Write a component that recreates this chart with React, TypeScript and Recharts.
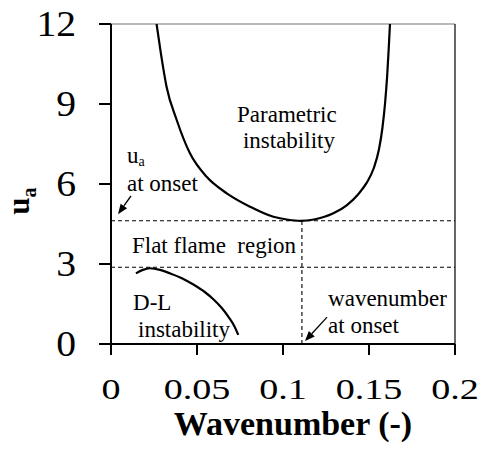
import React from 'react';
import { LineChart, Line, XAxis, YAxis, ReferenceLine, ReferenceDot } from 'recharts';

// Parametric instability boundary (wavenumber, u_a)
const parametricX = [0.0265, 0.029, 0.0323, 0.0382, 0.0459, 0.0556, 0.0673, 0.0808, 0.0944, 0.103, 0.110, 0.118, 0.1293, 0.137, 0.1435, 0.1487, 0.1528, 0.1558, 0.1578, 0.1593, 0.1605, 0.1614, 0.1622];
const parametricU = [12, 10.9, 9.65, 8.4, 7.15, 6.27, 5.65, 5.15, 4.77, 4.66, 4.62, 4.67, 4.9, 5.2, 5.6, 6.05, 6.6, 7.3, 8.1, 9.0, 10.0, 11.0, 12];

// Darrieus-Landau instability boundary
const dlX = [0.0145, 0.0185, 0.0227, 0.0285, 0.0343, 0.0415, 0.0479, 0.0545, 0.0595, 0.0643, 0.0685, 0.0718, 0.074];
const dlU = [2.65, 2.78, 2.84, 2.78, 2.65, 2.46, 2.23, 1.95, 1.68, 1.36, 1.0, 0.66, 0.34];

// Onset values
const onsetU = 4.62;
const onsetK = 0.111;
const flatLowerU = 2.88;

const xTicks = [0, 0.05, 0.1, 0.15, 0.2];
const yTicks = [0, 3, 6, 9, 12];

// Annotation texts anchored in data coordinates
const annotations = [
  { x: 0.0733, y: 8.32, text: 'Parametric' },
  { x: 0.0767, y: 7.34, text: 'instability' },
  { x: 0.0093, y: 5.74, text: 'at onset' },
  { x: 0.0122, y: 3.41, text: 'Flat flame\u00a0 region' },
  { x: 0.0128, y: 1.27, text: 'D-L' },
  { x: 0.0157, y: 0.26, text: 'instability' },
  { x: 0.1262, y: 1.42, text: 'wavenumber' },
  { x: 0.1262, y: 0.41, text: 'at onset' },
];
const uaLabel = { x: 0.0093, y: 6.78 };

// Arrows [tail, head]
const arrows = [
  [{ x: 0.0116, y: 5.55 }, { x: 0.0041, y: 4.87 }],
  [{ x: 0.1256, y: 1.01 }, { x: 0.1128, y: 0.11 }],
];

const parametricData = parametricX.map((x, i) => ({ x, u: parametricU[i] }));
const dlData = dlX.map((x, i) => ({ x, u: dlU[i] }));

const FONT = '"Liberation Serif", "Times New Roman", Times, serif';

const XTick = (props: any) => {
  const { x, y, payload } = props;
  return (
    <g transform={`translate(${x},${y})`}>
      <text transform="scale(1.27,1)" textAnchor="middle" y={42} fontSize={30} fontFamily={FONT} fill="#000">
        {payload.value}
      </text>
    </g>
  );
};

const YTick = (props: any) => {
  const { x, y, payload } = props;
  return (
    <g transform={`translate(${x - 21},${y})`}>
      <text transform="scale(1.1,1)" textAnchor="end" dy={12} fontSize={36} fontFamily={FONT} fill="#000">
        {payload.value}
      </text>
    </g>
  );
};

const ArrowShape = (props: any) => {
  const { x1, y1, x2, y2 } = props;
  const dx = x2 - x1;
  const dy = y2 - y1;
  const len = Math.sqrt(dx * dx + dy * dy) || 1;
  const ux = dx / len;
  const uy = dy / len;
  const hl = 10;
  const hw = 4;
  const bx = x2 - ux * hl;
  const by = y2 - uy * hl;
  const p1 = `${x2},${y2}`;
  const p2 = `${bx - uy * hw},${by + ux * hw}`;
  const p3 = `${bx + uy * hw},${by - ux * hw}`;
  return (
    <g>
      <line x1={x1} y1={y1} x2={bx} y2={by} stroke="#000" strokeWidth={1.3} />
      <polygon points={`${p1} ${p2} ${p3}`} fill="#000" />
    </g>
  );
};

const XLabel = (props: any) => {
  const vb = props.viewBox || {};
  return (
    <text x={vb.x + vb.width / 2 + 10} y={vb.y + 91} textAnchor="middle" fontSize={34} fontWeight="bold" fontFamily={FONT} fill="#000">
      Wavenumber (-)
    </text>
  );
};

const YLabel = (props: any) => {
  const vb = props.viewBox || {};
  const cx = vb.x - 2;
  const cy = vb.y + vb.height / 2 + 17;
  return (
    <text transform={`translate(${cx},${cy}) rotate(-90)`} textAnchor="middle" fontSize={31} fontWeight="bold" fontFamily={FONT} fill="#000">
      u<tspan fontSize={20} dy={7}>a</tspan>
    </text>
  );
};

export default function App() {
  return (
    <div style={{ position: 'absolute', left: 0, top: 0, background: '#fff' }}>
      <LineChart width={483} height={463} margin={{ top: 24, right: 28, bottom: 59, left: 31 }}>
        <XAxis
          dataKey="x"
          type="number"
          domain={[0, 0.2]}
          ticks={xTicks}
          allowDataOverflow
          tick={<XTick />}
          tickSize={11}
          axisLine={{ stroke: '#000', strokeWidth: 2 }}
          tickLine={{ stroke: '#000', strokeWidth: 2 }}
          height={60}
          label={<XLabel />}
        />
        <YAxis
          type="number"
          domain={[0, 12]}
          ticks={yTicks}
          allowDataOverflow
          tick={<YTick />}
          tickSize={12}
          axisLine={{ stroke: '#000', strokeWidth: 2 }}
          tickLine={{ stroke: '#000', strokeWidth: 2 }}
          width={80}
          label={<YLabel />}
        />
        <ReferenceLine y={12} stroke="#777" strokeWidth={1.2} />
        <ReferenceLine x={0.2} stroke="#000" strokeWidth={1.2} />
        <ReferenceLine y={onsetU} stroke="#000" strokeWidth={1.1} strokeDasharray="4 3" />
        <ReferenceLine y={flatLowerU} stroke="#000" strokeWidth={1.1} strokeDasharray="4 3" />
        <ReferenceLine segment={[{ x: onsetK, y: 0 }, { x: onsetK, y: onsetU }]} stroke="#000" strokeWidth={1.1} strokeDasharray="4 3" />
        <Line data={parametricData} dataKey="u" type="monotone" stroke="#000" strokeWidth={2.2} dot={false} isAnimationActive={false} />
        <Line data={dlData} dataKey="u" type="monotone" stroke="#000" strokeWidth={2.2} dot={false} isAnimationActive={false} />
        {arrows.map((a, i) => (
          <ReferenceLine key={`arr${i}`} segment={a} shape={<ArrowShape />} />
        ))}
        {annotations.map((a, i) => (
          <ReferenceDot
            key={`ann${i}`}
            x={a.x}
            y={a.y}
            r={0}
            shape={(p: any) => (
              <text x={p.cx} y={p.cy} fontSize={23} fontFamily={FONT} fill="#000">
                {a.text}
              </text>
            )}
          />
        ))}
        <ReferenceDot
          x={uaLabel.x}
          y={uaLabel.y}
          r={0}
          shape={(p: any) => (
            <text x={p.cx} y={p.cy} fontSize={23} fontFamily={FONT} fill="#000">
              u<tspan fontSize={14} dy={3}>a</tspan>
            </text>
          )}
        />
      </LineChart>
    </div>
  );
}
